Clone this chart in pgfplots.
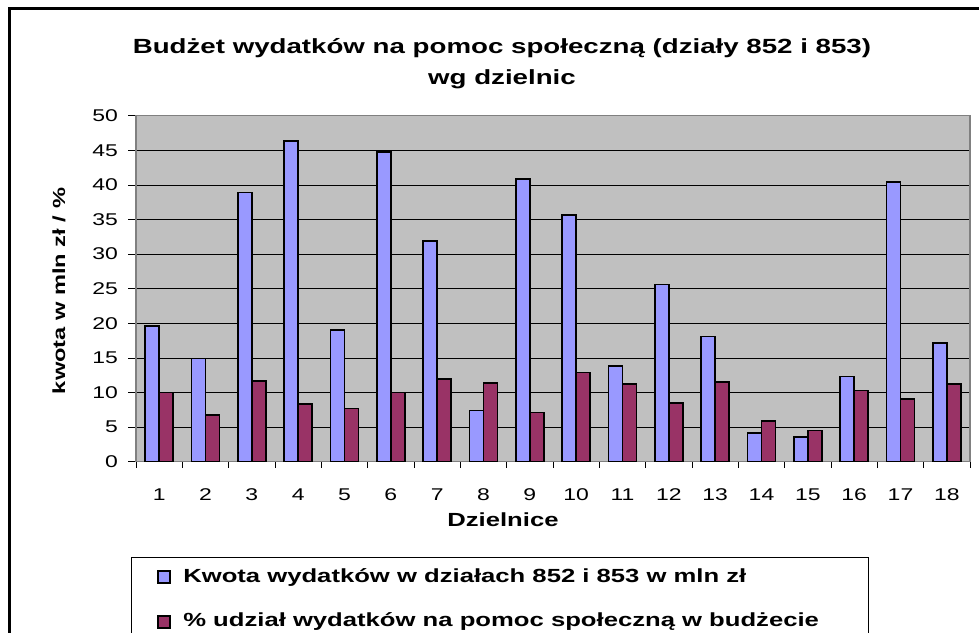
\documentclass[border=0pt]{standalone}
\usepackage{pgfplots}
\pgfplotsset{compat=1.18}
\usepackage{fontspec}
\setmainfont{Liberation Sans}[FakeStretch=1.35]
\definecolor{barblue}{HTML}{9999FF}
\definecolor{barred}{HTML}{993366}
\definecolor{plotgray}{HTML}{C0C0C0}
\definecolor{bordergray}{HTML}{808080}

\pgfplotstableread{
d kwota udzial
1 19.6 10.0
2 14.9 6.8
3 38.9 11.7
4 46.4 8.3
5 19.0 7.7
6 44.7 10.0
7 31.9 12.0
8 7.4 11.4
9 40.9 7.1
10 35.7 12.9
11 13.8 11.2
12 25.6 8.5
13 18.1 11.5
14 4.2 5.9
15 3.6 4.5
16 12.3 10.3
17 40.4 9.1
18 17.2 11.2
}\datatable

\begin{document}
\begin{tikzpicture}
\useasboundingbox (0,0) rectangle (979bp,633bp);
\clip (0,0) rectangle (979bp,633bp);
\fill[white] (0,0) rectangle (979bp,633bp);
\draw[line width=3bp] (9.5bp,0) -- (9.5bp,624bp) -- (979bp,624bp);
\draw[line width=1bp] (131.7bp,-20bp) rectangle (868bp,75bp);
\begin{axis}[
  at={(136bp,171.3bp)}, anchor=south west,
  scale only axis, width=834bp, height=346bp,
  ymin=0, ymax=50, xmin=0.5, xmax=18.5,
  ybar=0pt, bar width=14bp,
  axis background/.style={fill=plotgray},
  axis line style={draw=bordergray, line width=1.2bp},
  ytick={0,5,...,50},
  xtick={1,...,18},
  minor xtick={0.5,1.5,...,18.5},
  major x tick style={draw=none},
  minor tick length=6bp,
  major tick length=8bp,
  tick align=outside,
  tick style={black, line width=0.8bp},
  xtick pos=bottom, ytick pos=left,
  ymajorgrids, grid style={black, line width=0.8bp},
  /pgf/number format/assume math mode=true,
  every tick label/.append style={font=\fontsize{17bp}{20bp}\selectfont},
  yticklabel style={inner sep=0pt, xshift=-10bp},
  xticklabel style={inner sep=0pt, yshift=-19bp},
  ylabel={\textbf{kwota w mln zł / \%}},
  ylabel style={font=\fontsize{17.5bp}{20bp}\selectfont, at={(axis description cs:-0.0851,0.4934)}, anchor=base},
  xlabel={\textbf{Dzielnice}},
  xlabel style={font=\fontsize{19bp}{22bp}\selectfont, at={(axis description cs:0.440,-0.1887)}, anchor=base},
  title={\textbf{Budżet wydatków na pomoc społeczną (działy 852 i 853)}\\\textbf{wg dzielnic}},
  title style={font=\fontsize{20.5bp}{31bp}\selectfont, align=center, at={(axis description cs:0.4388,1.072)}, anchor=base},
  legend style={at={(axis description cs:0.02518,-0.3072)}, anchor=north west,
    draw=none, fill=none, inner sep=0pt, row sep=26.8bp, column sep=12.7bp,
    font=\fontsize{19bp}{22bp}\selectfont\bfseries,
    nodes={inner sep=0pt, text height=14bp, text depth=4bp}},
  legend cell align=left,
  legend image code/.code={\draw[#1, line width=1.4bp] (0bp,-6bp) rectangle (12bp,6bp);},
]
\addplot[fill=barblue, draw=black, line width=1.8bp] table[x=d, y=kwota] {\datatable};
\addplot[fill=barred, draw=black, line width=1.8bp] table[x=d, y=udzial] {\datatable};
\legend{Kwota wydatków w działach 852 i 853 w mln zł, \% udział wydatków na pomoc społeczną w budżecie}
\end{axis}
\end{tikzpicture}
\end{document}
